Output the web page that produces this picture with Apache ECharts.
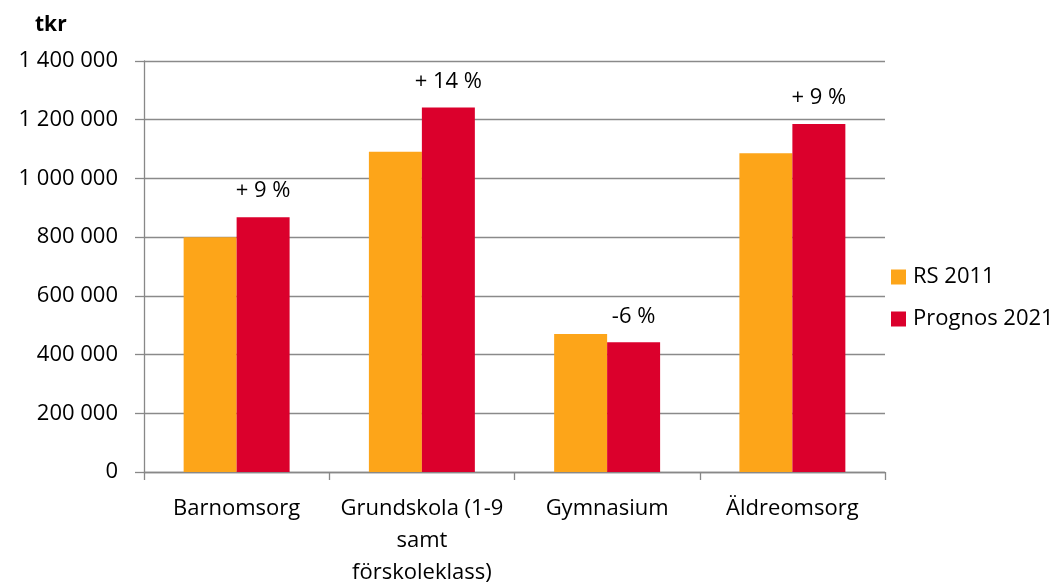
<!DOCTYPE html>
<html><head><meta charset="utf-8">
<script src="https://cdn.jsdelivr.net/npm/echarts@6/dist/echarts.min.js"></script>
<style>html,body{margin:0;padding:0;background:#fff}#c{width:1056px;height:582px}</style>
</head><body><div id="c"></div>
<script>
const categories = ['Barnomsorg', 'Grundskola (1-9\nsamt\nförskoleklass)', 'Gymnasium', 'Äldreomsorg'];
const rs2011 = [800000, 1091000, 470000, 1086000];
const prognos2021 = [868000, 1242000, 442000, 1185000];
const changeLabels = ['+ 9 %', '+ 14 %', '-6 %', '+ 9 %'];
const yTicks = {min: 0, max: 1400000, interval: 200000};
const seriesNames = ['RS 2011', 'Prognos 2021'];
const unitLabel = 'tkr';

const FONT = '"Open Sans"';
const FS = 22;
const chart = echarts.init(document.getElementById('c'), null, {renderer: 'canvas'});
const fmt = v => String(v).replace(/\B(?=(\d{3})+(?!\d))/g, ' ');
chart.setOption({
  animation: false,
  textStyle: {fontFamily: FONT, color: '#000'},
  graphic: [{type: 'text', left: 35, top: 15, style: {text: unitLabel, font: 'bold 21px ' + FONT, fill: '#000'}}],
  legend: {
    orient: 'vertical', left: 886, top: 261, itemWidth: 15, itemHeight: 15, itemGap: 20,
    icon: 'rect', textStyle: {fontSize: FS, fontFamily: FONT, color: '#000', padding: [0, 0, 0, 2]},
    data: seriesNames
  },
  grid: {left: 144, right: 171, top: 61, bottom: 110, containLabel: false, outerBoundsMode: 'none'},
  xAxis: {
    type: 'category', data: categories,
    axisLine: {lineStyle: {color: '#888', width: 1.3}},
    axisTick: {show: true, length: 8, lineStyle: {color: '#888', width: 1.3}},
    axisLabel: {fontSize: FS, fontFamily: FONT, color: '#000', lineHeight: 32, margin: 21, interval: 0}
  },
  yAxis: {
    type: 'value', min: yTicks.min, max: yTicks.max, interval: yTicks.interval,
    axisLine: {show: true, lineStyle: {color: '#888', width: 1.3}},
    axisTick: {show: true, length: 9, lineStyle: {color: '#888', width: 1.3}},
    splitLine: {lineStyle: {color: '#8a8a8a', width: 1.3}},
    axisLabel: {fontSize: FS, fontFamily: FONT, color: '#000', margin: 26, formatter: fmt}
  },
  series: [
    {name: seriesNames[0], type: 'bar', data: rs2011, barWidth: '28.6%', barGap: '0%',
     itemStyle: {color: '#FDA519'}},
    {name: seriesNames[1], type: 'bar', data: prognos2021, barWidth: '28.6%',
     itemStyle: {color: '#DB002C'},
     label: {show: true, position: 'top', distance: 15, fontSize: FS, fontFamily: FONT, color: '#000',
       formatter: p => changeLabels[p.dataIndex]}}
  ]
});
</script></body></html>
